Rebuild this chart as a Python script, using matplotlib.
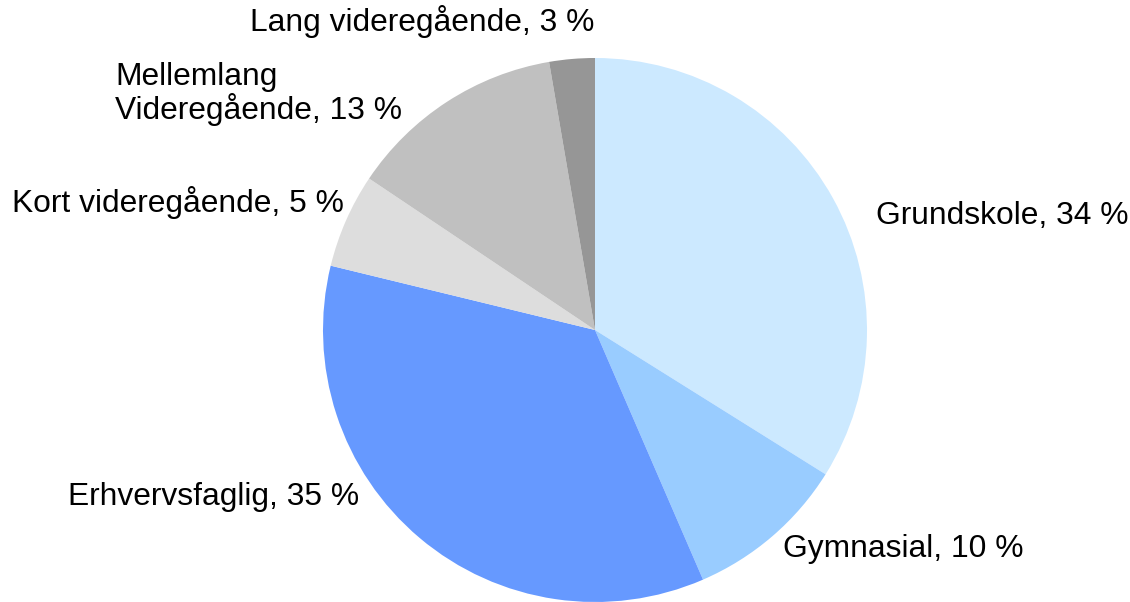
import matplotlib.pyplot as plt

plt.rcParams['font.family'] = ['Liberation Sans', 'DejaVu Sans']

categories = ['Grundskole', 'Gymnasial', 'Erhvervsfaglig', 'Kort videregående',
              'Mellemlang\nVideregående', 'Lang videregående']
shares = [33.9, 9.6, 35.3, 5.6, 12.9, 2.7]
label_pct = [34, 10, 35, 5, 13, 3]
colors = ['#CCE9FF', '#99CCFF', '#6699FF', '#DDDDDD', '#C0C0C0', '#969696']

W, H = 1130, 602
fig = plt.figure(figsize=(W / 100, H / 100), dpi=100)

cx, cy, r = 595, 330, 272
ax = fig.add_axes([(cx - r) / W, (H - cy - r) / H, 2 * r / W, 2 * r / H])
ax.pie(shares, colors=colors, startangle=90, counterclock=False,
       radius=1, wedgeprops=dict(linewidth=0))
ax.set_xlim(-1, 1)
ax.set_ylim(-1, 1)
ax.set_aspect('equal')
ax.axis('off')

# label anchor (left x, center y) in pixels
label_pos = [(876, 216), (783, 549), (68, 497), (12, 203), (115, 94), (250, 22)]
for name, pct, (lx, ly) in zip(categories, label_pct, label_pos):
    fig.text(lx / W, 1 - ly / H, f'{name}, {pct} %', fontsize=22.9,
             ha='left', va='center', linespacing=1.0)

fig.savefig('out.png', dpi=100)
